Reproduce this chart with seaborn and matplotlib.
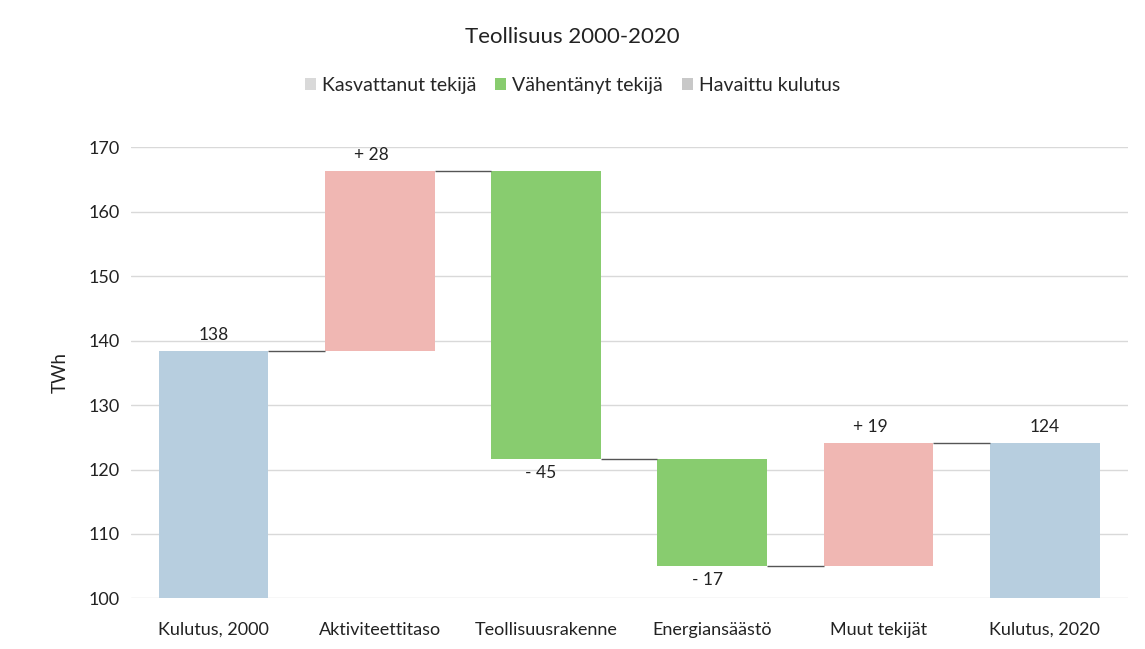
import numpy as np
import pandas as pd
import matplotlib
matplotlib.use('Agg')
import matplotlib.pyplot as plt
from matplotlib.patches import Patch
import seaborn as sns

# Tiedot kuvasta luettuna
kategoriat = ['Kulutus, 2000', 'Aktiviteettitaso', 'Teollisuusrakenne',
              'Energiansäästö', 'Muut tekijät', 'Kulutus, 2020']
alku = 138.4
muutokset = [27.9, -44.6, -16.6, 19.0]
legenda_nimet = ['Kasvattanut tekijä', 'Vähentänyt tekijä', 'Havaittu kulutus']

sininen = '#B7CEDF'
punainen = '#F0B7B3'
vihrea = '#88CC6F'

# Lasketaan vesiputouksen tasot
tasot = np.concatenate([[alku], alku + np.cumsum(muutokset)])
loppu = tasot[-1]
pohjat = [0.0]
korkeudet = [alku]
for i, m in enumerate(muutokset):
    pohjat.append(min(tasot[i], tasot[i + 1]))
    korkeudet.append(abs(m))
pohjat.append(0.0)
korkeudet.append(loppu)

df = pd.DataFrame({'kategoria': kategoriat, 'korkeus': korkeudet})

sns.set_style('white')
plt.rcParams['font.family'] = ['Lato', 'DejaVu Sans']

fig = plt.figure(figsize=(11.45, 6.49), dpi=100)
ax = fig.add_axes([0.114, 0.078, 0.871, 0.695])

leveys = 0.66
sns.barplot(data=df, x='kategoria', y='korkeus', bottom=pohjat, width=leveys,
            ax=ax, color=sininen, linewidth=0, zorder=3)

varit = [sininen] + [punainen if m > 0 else vihrea for m in muutokset] + [sininen]
for p, c in zip(ax.patches, varit):
    p.set_facecolor(c)

# Yhdysviivat
for i in range(len(tasot)):
    ax.hlines(tasot[i], i + leveys / 2, i + 1 - leveys / 2, color='#555555',
              linewidth=1.0, zorder=4)

# Arvot
fs = 12.5
ax.text(0, alku + 1.3, f'{alku:.0f}', ha='center', va='bottom', fontsize=fs, color='#222222')
for i, m in enumerate(muutokset):
    x = i + 1
    if m > 0:
        ax.text(x - 0.05, tasot[i + 1] + 1.3, f'+ {abs(m):.0f}', ha='center', va='bottom', fontsize=fs, color='#222222')
    else:
        ax.text(x - 0.03, tasot[i + 1] - 1.0, f'- {abs(m):.0f}', ha='center', va='top', fontsize=fs, color='#222222')
ax.text(5, loppu + 1.3, f'{loppu:.0f}', ha='center', va='bottom', fontsize=fs, color='#222222')

ax.set_ylim(100, 170)
ax.set_xlim(-0.5, 5.5)
ax.set_yticks(np.arange(100, 171, 10))
ax.yaxis.grid(True, color='#D9D9D9', linewidth=1, zorder=0)
ax.set_axisbelow(True)
for s in ax.spines.values():
    s.set_visible(False)
ax.tick_params(axis='both', length=0, labelsize=13, colors='#222222', pad=8)
ax.tick_params(axis='x', pad=17)
ax.set_xlabel('')
ax.set_ylabel('TWh', fontsize=13.5, labelpad=14, color='#222222')

fig.text(0.5, 0.943, 'Teollisuus 2000-2020', ha='center', va='center', fontsize=16, color='#222222')

kahvat = [Patch(facecolor='#D9D9D9', edgecolor='none'),
          Patch(facecolor=vihrea, edgecolor='none'),
          Patch(facecolor='#C8C8C8', edgecolor='none')]
fig.legend(kahvat, legenda_nimet, loc='center', bbox_to_anchor=(0.5, 0.868), ncol=3,
           frameon=False, fontsize=14, handlelength=0.55, handleheight=0.55,
           handletextpad=0.3, columnspacing=1.0)

fig.savefig('out.png', dpi=100, facecolor='white')
